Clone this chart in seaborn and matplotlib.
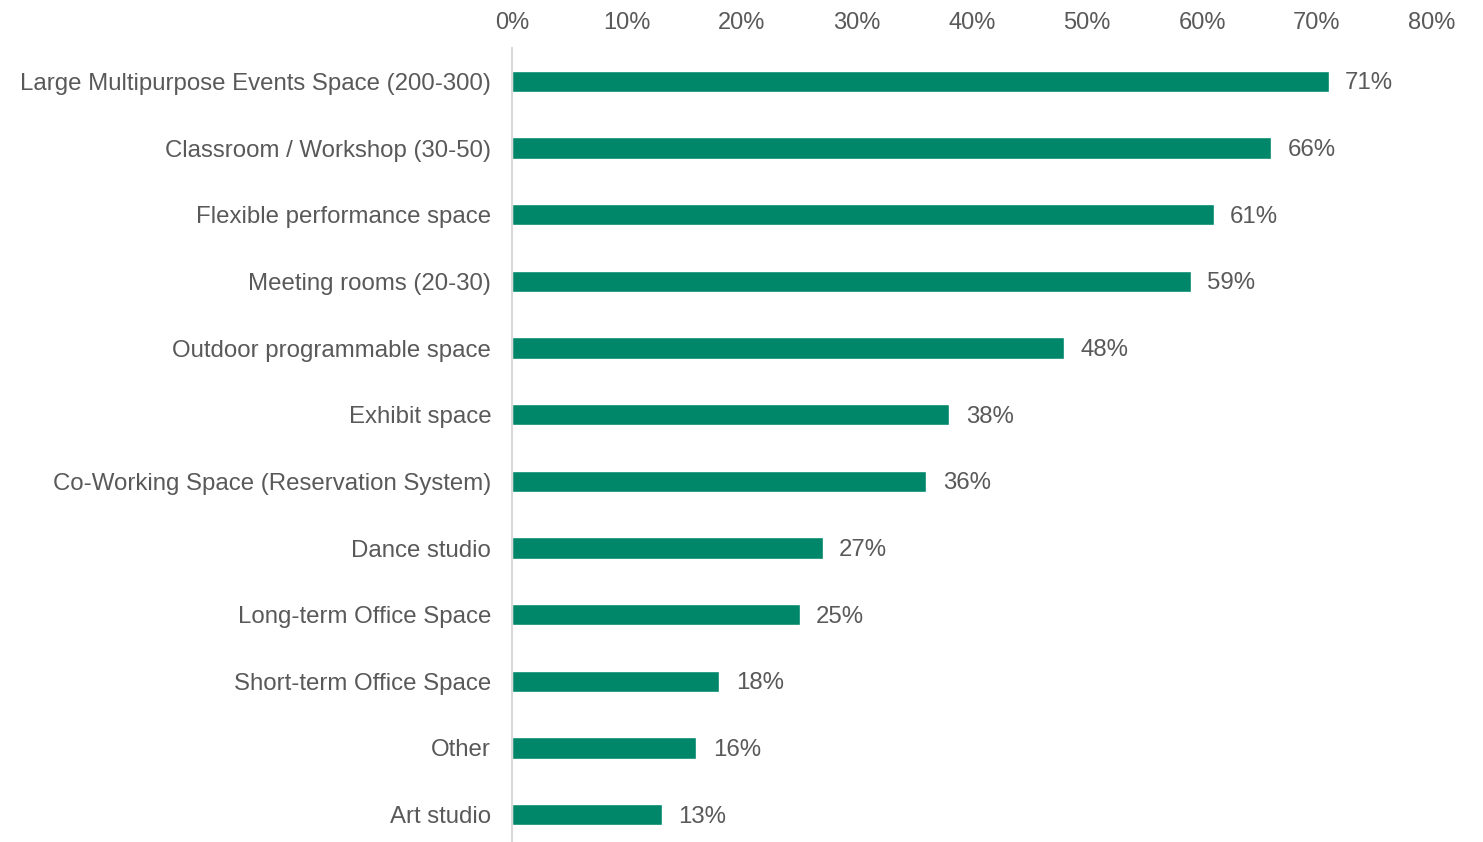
import matplotlib
matplotlib.use("Agg")
import matplotlib.pyplot as plt
from matplotlib.ticker import FuncFormatter
import seaborn as sns
import pandas as pd

categories = [
    "Large Multipurpose Events Space (200-300)",
    "Classroom / Workshop (30-50)",
    "Flexible performance space",
    "Meeting rooms (20-30)",
    "Outdoor programmable space",
    "Exhibit space",
    "Co-Working Space (Reservation System)",
    "Dance studio",
    "Long-term Office Space",
    "Short-term Office Space",
    "Other",
    "Art studio",
]
shares = [71, 66, 61, 59, 48, 38, 36, 27, 25, 18, 16, 13]
x_ticks = [0, 10, 20, 30, 40, 50, 60, 70, 80]

df = pd.DataFrame({"space": categories, "share": shares})

sns.set_theme(style="white")
plt.rcParams["font.family"] = ["Liberation Sans", "DejaVu Sans"]

text_color = "#595959"
bar_color = "#00876A"

fig = plt.figure(figsize=(14.83, 8.42), dpi=100)
ax = fig.add_axes([512 / 1483, -6 / 842, 920 / 1483, 800 / 842])

sns.barplot(data=df, x="share", y="space", orient="h", color=bar_color,
            width=0.32, ax=ax, saturation=1)

ax.set_xlim(0, 80)
ax.set_xticks(x_ticks)
ax.xaxis.set_major_formatter(FuncFormatter(lambda v, _: f"{v:.0f}%"))
ax.xaxis.tick_top()
ax.tick_params(axis="x", length=0, pad=10, labelsize=17, labelcolor=text_color)
ax.tick_params(axis="y", length=0, pad=15, labelsize=17.3, labelcolor=text_color)
ax.set_xlabel("")
ax.set_ylabel("")

for side in ["top", "right", "bottom"]:
    ax.spines[side].set_visible(False)
ax.spines["left"].set_color("#d9d9d9")
ax.spines["left"].set_linewidth(1.5)

# value labels to the right of each bar, centred on the bar
for i, v in enumerate(shares):
    ax.annotate(f"{v}%", xy=(v, i), xytext=(12, -1.5), textcoords="offset points",
                ha="left", va="center", fontsize=17.3, color=text_color)

fig.savefig("out.png", dpi=100)
